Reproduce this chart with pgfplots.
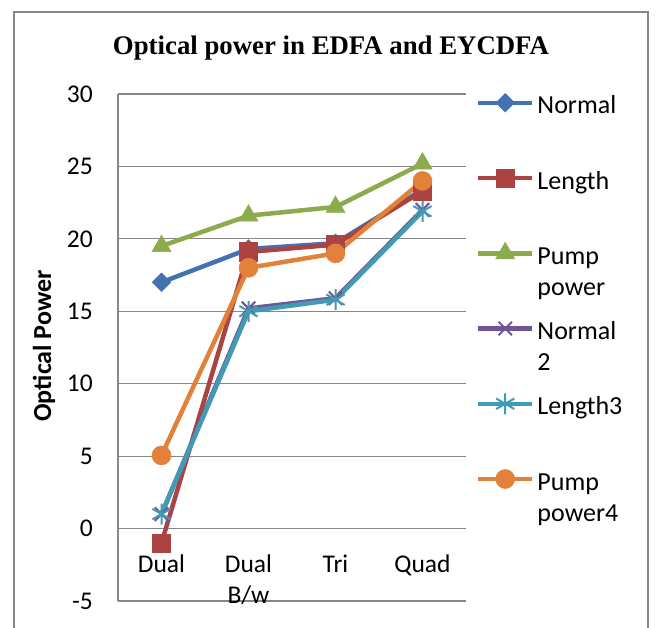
\documentclass[border=0pt]{standalone}
\usepackage{fontspec}
\setmainfont{Carlito}
\newfontfamily\titlefont{Liberation Serif}
\usepackage{pgfplots}
\pgfplotsset{compat=1.18}
\definecolor{cNormal}{RGB}{68,114,176}
\definecolor{cLength}{RGB}{170,67,66}
\definecolor{cPump}{RGB}{139,172,77}
\definecolor{cNormalB}{RGB}{112,85,150}
\definecolor{cLengthC}{RGB}{65,155,180}
\definecolor{cPumpD}{RGB}{226,130,58}
\definecolor{gridGray}{RGB}{134,134,134}
\newcommand{\two}[3]{\begin{tabular}[t]{@{}#1@{}}#2\\#3\end{tabular}}
\begin{document}
\begin{tikzpicture}[x=1pt,y=1pt]
\useasboundingbox (0,0) rectangle (656,627);
\draw[color=gridGray, line width=1.3pt] (14,-10) rectangle (648,615);
\node[font=\titlefont\bfseries\fontsize{26.8}{30}\selectfont] at (331,579) {Optical power in EDFA and EYCDFA};
\begin{axis}[
  at={(118pt,26pt)}, anchor=south west, scale only axis,
  width=348pt, height=507pt,
  xmin=-0.5, xmax=3.5, ymin=-5, ymax=30,
  ytick={-5,0,5,10,15,20,25,30},
  xtick={0,1,2,3}, xticklabels={Dual,{\two{c}{Dual}{B/w}},Tri,Quad},
  axis line style={draw=none}, major tick length=0pt,
  ymajorgrids, grid style={gridGray, line width=1.2pt},
  tick label style={font=\fontsize{25.5}{31}\selectfont},
  /pgf/number format/assume math mode=true,
  yticklabel style={anchor=east, inner sep=0pt, xshift=-25pt},
  xticklabel style={anchor=north, inner sep=0pt, text height=18pt, yshift=47pt},
  ylabel={Optical Power},
  ylabel style={at={(axis description cs:-0.2126,0.503)}, anchor=center, font=\bfseries\fontsize{26}{30}\selectfont},
  clip=false,
  legend style={at={(axis description cs:1.0287,1.0197)}, anchor=north west, draw=none, fill=none,
    inner sep=0pt, outer sep=0pt, row sep=39.5pt, column sep=3pt,
    font=\fontsize{26}{31}\selectfont,
    nodes={inner sep=0pt, text height=21pt, text depth=6pt}},
  legend cell align=left,
  legend image code/.code={\path (0pt,-10pt) (0pt,20pt); \draw[#1, mark repeat=2, mark phase=2] plot coordinates {(0pt,3.5pt) (27pt,3.5pt) (54pt,3.5pt)};},
]
\draw[gridGray, line width=1.2pt] (rel axis cs:0,0) -- (rel axis cs:0,1);
\addplot[color=cNormal, line width=4.5pt, mark=square*, mark size=6.6pt, mark options={rotate=45, line width=0.5pt}]
  coordinates {(0,17.0) (1,19.3) (2,19.7) (3,23.4)};
\addplot[color=cLength, line width=4.5pt, mark=square*, mark size=9.2pt, mark options={line width=0.5pt}]
  coordinates {(0,-1.0) (1,19.1) (2,19.6) (3,23.3)};
\addplot[color=cPump, line width=4.5pt, mark=triangle*, mark size=11pt, mark options={line width=0.5pt}]
  coordinates {(0,19.5) (1,21.6) (2,22.2) (3,25.2)};
\addplot[color=cNormalB, line width=4.5pt, mark=x, mark size=9.5pt, mark options={line width=2pt}]
  coordinates {(0,1.0) (1,15.2) (2,15.9) (3,22.0)};
\addplot[color=cLengthC, line width=4.5pt, mark=asterisk, mark size=10.5pt, mark options={line width=2pt}]
  coordinates {(0,1.0) (1,15.0) (2,15.8) (3,21.9)};
\addplot[color=cPumpD, line width=4.5pt, mark=*, mark size=9.5pt, mark options={line width=0.5pt}]
  coordinates {(0,5.05) (1,18.0) (2,19.0) (3,24.0)};
\legend{Normal, Length, {\two{l}{Pump}{power}}, {\two{l}{Normal}{2}}, Length3, {\two{l}{Pump}{power4}}}
\end{axis}
\end{tikzpicture}
\end{document}
